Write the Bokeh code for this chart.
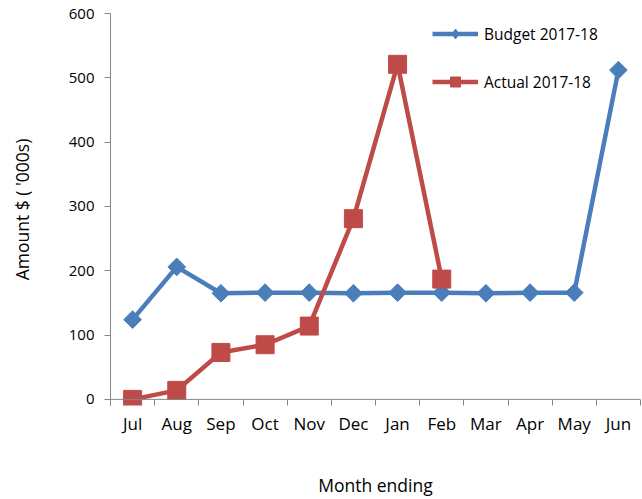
import math
from bokeh.plotting import figure
from bokeh.models import (Range1d, FixedTicker, Legend, LegendItem, ColumnDataSource, Span)
from bokeh.embed import file_html
from bokeh.resources import INLINE

months = ["Jul", "Aug", "Sep", "Oct", "Nov", "Dec", "Jan", "Feb", "Mar", "Apr", "May", "Jun"]
budget = [124, 206, 165, 166, 166, 165, 166, 166, 165, 166, 166, 512]
actual = [0, 14, 73, 85, 114, 281, 521, 187]
y_ticks = [0, 100, 200, 300, 400, 500, 600]

FONT = "Open Sans"
BLUE = "#4A7EBB"
RED = "#BE4B48"
AXIS = "#868686"

idx = list(range(len(months)))
src_b = ColumnDataSource(dict(x=idx, y=budget))
src_a = ColumnDataSource(dict(x=idx[:len(actual)], y=actual))
src_legend = ColumnDataSource(dict(x=[float("nan")], y=[float("nan")]))

p = figure(width=642, height=499, output_backend="svg", toolbar_location=None,
           x_range=Range1d(-0.5, len(months) - 0.5), y_range=Range1d(-9.5, 600),
           min_border_left=110, min_border_right=2, min_border_top=13, min_border_bottom=94)
p.outline_line_color = None
p.xgrid.grid_line_color = None
p.ygrid.grid_line_color = None
p.background_fill_color = "white"
p.border_fill_color = "white"

# horizontal axis line at value 0
p.add_layout(Span(location=0, dimension="width", line_color=AXIS, line_width=1))

lb = p.line("x", "y", source=src_b, line_color=BLUE, line_width=4.5)
mb = p.scatter("x", "y", source=src_b, marker="square", angle=math.pi / 4, size=12.5,
               fill_color=BLUE, line_color=BLUE)
la = p.line("x", "y", source=src_a, line_color=RED, line_width=4.5)
ma = p.scatter("x", "y", source=src_a, marker="square", size=18,
               fill_color=RED, line_color=RED)
# legend-only marker glyph (diamond) for the budget series
lg_b = p.scatter("x", "y", source=src_legend, marker="diamond", size=14,
                 fill_color=BLUE, line_color=BLUE)

# x axis
xa = p.xaxis[0]
xa.ticker = FixedTicker(ticks=idx, minor_ticks=[i - 0.5 for i in range(len(months) + 1)])
xa.major_label_overrides = {i: m for i, m in enumerate(months)}
xa.major_tick_line_color = None
xa.major_tick_out = 0
xa.major_tick_in = 0
xa.minor_tick_line_color = AXIS
xa.minor_tick_out = 0
xa.minor_tick_in = 6
xa.axis_line_color = None
xa.major_label_standoff = 6
xa.major_label_text_font = FONT
xa.major_label_text_font_size = "17px"
xa.major_label_text_color = "black"
xa.axis_label = "Month ending"
xa.axis_label_text_font = FONT
xa.axis_label_text_font_size = "17.5px"
xa.axis_label_text_font_style = "normal"
xa.axis_label_text_color = "black"
xa.axis_label_standoff = 35

# y axis
ya = p.yaxis[0]
ya.ticker = FixedTicker(ticks=y_ticks, minor_ticks=[])
ya.major_tick_line_color = AXIS
ya.major_tick_out = 6
ya.major_tick_in = 0
ya.minor_tick_line_color = None
ya.axis_line_color = AXIS
ya.major_label_standoff = 10
ya.major_label_text_font = FONT
ya.major_label_text_font_size = "15px"
ya.major_label_text_color = "black"
ya.axis_label = "Amount $ ( '000s)"
ya.axis_label_text_font = FONT
ya.axis_label_text_font_size = "17.5px"
ya.axis_label_text_font_style = "normal"
ya.axis_label_text_color = "black"
ya.axis_label_standoff = 32

legend = Legend(items=[LegendItem(label="Budget 2017-18", renderers=[lb, lg_b]),
                       LegendItem(label="Actual 2017-18", renderers=[la, ma])],
                location=(322, 311), orientation="vertical",
                glyph_width=46, glyph_height=25, spacing=23, padding=23, margin=0,
                label_standoff=6, label_width=124,
                label_text_font=FONT, label_text_font_size="15.5px",
                label_text_color="black", border_line_color=None,
                background_fill_color="white", background_fill_alpha=1.0,
                level="overlay")
p.add_layout(legend)

open("out.html", "w").write(file_html(p, INLINE))
